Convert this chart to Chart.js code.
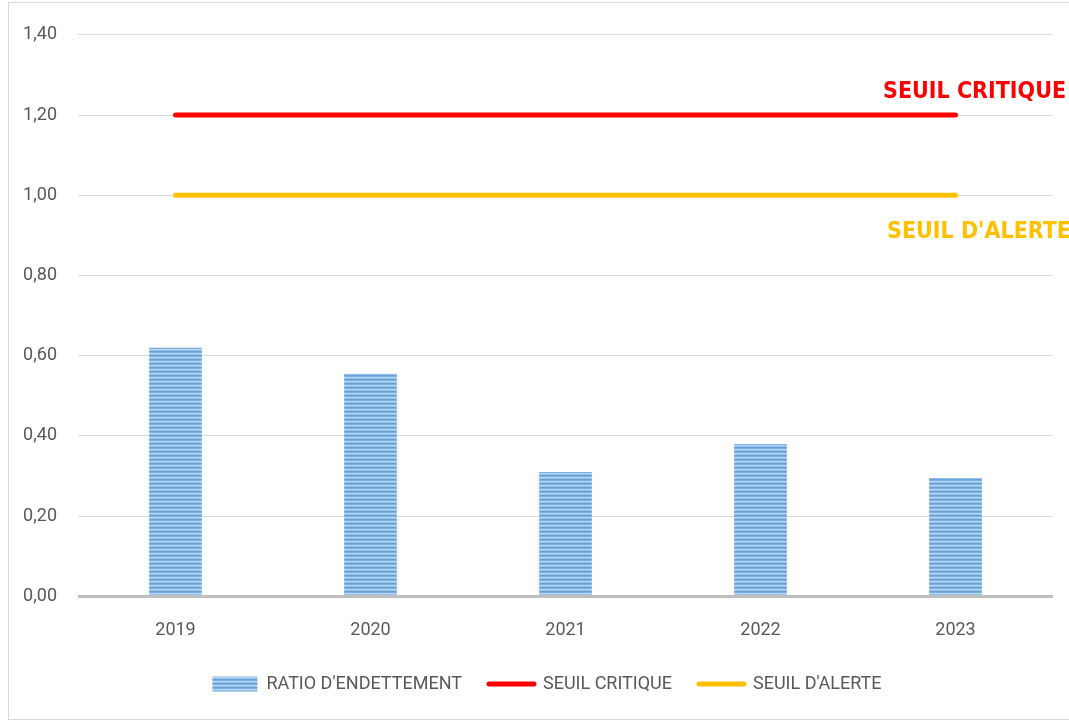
<!DOCTYPE html>
<html>
<head>
<meta charset="utf-8">
<script src="https://cdn.jsdelivr.net/npm/chart.js@4.4.1/dist/chart.umd.min.js"></script>
<style>
  html, body { margin: 0; padding: 0; background: #fff; overflow: hidden; }
  #frame {
    position: absolute; left: 8px; top: 2px; width: 1061px; height: 716px;
    border-left: 1px solid #d9d9d9; border-top: 1px solid #d9d9d9; border-bottom: 1px solid #d9d9d9;
  }
  #wrap { position: absolute; left: 0; top: 0; width: 1061px; height: 716px; }
</style>
</head>
<body>
<div id="frame"><div id="wrap"><canvas id="chart"></canvas></div></div>
<script>
// Chart data
const years = ['2019', '2020', '2021', '2022', '2023'];
const ratioEndettement = [0.62, 0.555, 0.31, 0.38, 0.295];
const seuilCritique = [1.2, 1.2, 1.2, 1.2, 1.2];
const seuilAlerte = [1.0, 1.0, 1.0, 1.0, 1.0];
const yTicks = [0, 0.2, 0.4, 0.6, 0.8, 1.0, 1.2, 1.4];

const TXT = '#595959';
const FONT = "Roboto, 'Liberation Sans', Arial, sans-serif";

// striped blue fill, like the office "horizontal stripe" gradient
const stripes = (() => {
    const c = document.createElement('canvas');
    c.width = 4; c.height = 4;
    const g = c.getContext('2d');
    const rows = ['#67a1d9', '#78aee0', '#bcd8f1', '#93bee7'];
    rows.forEach((col, i) => { g.fillStyle = col; g.fillRect(0, i, 4, 1); });
    return g.createPattern(c, 'repeat');
})();

// threshold captions on the right
const captions = {
    id: 'captions',
    afterLayout(chart) {
        // legend sits a bit right of centre in the original
        const lg = chart.legend;
        if (lg) { lg.left += 16; lg.right += 16; }
    },
    afterDatasetsDraw(chart) {
        const { ctx, chartArea, scales } = chart;
        ctx.save();
        ctx.font = "bold 23px 'DejaVu Sans Condensed', 'DejaVu Sans', sans-serif";
        ctx.textBaseline = 'alphabetic';
        ctx.textAlign = 'left';
        ctx.fillStyle = '#ff0000';
        ctx.fillText('SEUIL CRITIQUE', chartArea.right - 170, scales.y.getPixelForValue(seuilCritique[0]) - 17);
        ctx.fillStyle = '#ffc000';
        ctx.fillText("SEUIL D'ALERTE", chartArea.right - 166, scales.y.getPixelForValue(seuilAlerte[0]) + 43);
        ctx.restore();
    },
};

new Chart(document.getElementById('chart'), {
    data: {
        labels: years,
        datasets: [
            {
                type: 'bar',
                label: "RATIO D'ENDETTEMENT",
                data: ratioEndettement,
                backgroundColor: stripes,
                borderWidth: 0,
                barPercentage: 0.27,
                categoryPercentage: 1,
                order: 3,
            },
            {
                type: 'line',
                label: 'SEUIL CRITIQUE',
                data: seuilCritique,
                borderColor: '#ff0000',
                backgroundColor: '#ff0000',
                borderWidth: 5,
                borderCapStyle: 'round',
                pointRadius: 0,
                order: 1,
            },
            {
                type: 'line',
                label: "SEUIL D'ALERTE",
                data: seuilAlerte,
                borderColor: '#ffc000',
                backgroundColor: '#ffc000',
                borderWidth: 5,
                borderCapStyle: 'round',
                pointRadius: 0,
                order: 2,
            },
        ],
    },
    options: {
        responsive: true,
        maintainAspectRatio: false,
        animation: false,
        layout: { padding: { top: 21, left: 0, right: 17, bottom: 16 } },
        plugins: {
            tooltip: { enabled: false },
            legend: {
                position: 'bottom',
                labels: {
                    color: TXT,
                    font: { family: FONT, size: 18 },
                    usePointStyle: true,
                    pointStyleWidth: 45,
                    boxHeight: 15,
                    padding: 27,
                    generateLabels: (chart) => chart.data.datasets.map((ds, i) => ({
                        text: ds.label,
                        datasetIndex: i,
                        fontColor: TXT,
                        pointStyle: ds.type === 'bar' ? 'rect' : 'line',
                        fillStyle: ds.type === 'bar' ? stripes : ds.borderColor,
                        strokeStyle: ds.type === 'bar' ? 'rgba(0,0,0,0)' : ds.borderColor,
                        lineWidth: ds.type === 'bar' ? 0 : 5,
                        lineCap: 'round',
                        hidden: false,
                    })),
                },
            },
        },
        scales: {
            x: {
                grid: { display: false },
                border: { display: false },
                ticks: { color: TXT, font: { family: FONT, size: 18 }, padding: 15 },
                afterFit: (scale) => { scale.height -= 8; },
            },
            y: {
                min: 0,
                max: 1.4,
                afterBuildTicks: (scale) => { scale.ticks = yTicks.map(v => ({ value: v })); },
                afterFit: (scale) => { scale.width = 69; },
                border: { display: false },
                grid: {
                    drawTicks: false,
                    color: (c) => c.tick && c.tick.value === 0 ? '#bfbfbf' : '#d9d9d9',
                    lineWidth: (c) => c.tick && c.tick.value === 0 ? 3 : 1,
                },
                ticks: {
                    color: TXT,
                    font: { family: FONT, size: 18 },
                    padding: 21,
                    callback: (v) => Number(v).toFixed(2).replace('.', ','),
                },
            },
        },
    },
    plugins: [captions],
});
</script>
</body>
</html>
